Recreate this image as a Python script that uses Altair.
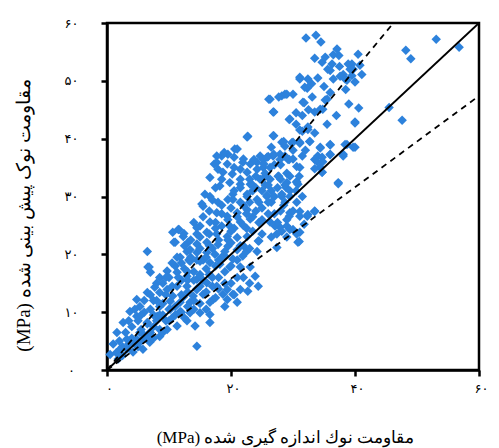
import json
import altair as alt
import pandas as pd

# Measured (x) and predicted (y) cone tip resistance, MPa
measured = [
    32.1, 33.7, 34.5, 37.1, 40.5, 33.5, 34.7, 35.2, 36.3, 37.4,
    39.5, 40.8, 39.2, 36.0, 38.1, 39.5, 41.1, 36.5, 38.7, 40.0,
    31.1, 32.4, 31.9, 28.7, 30.0, 33.1, 31.6, 35.2, 40.6, 34.4,
    33.5, 29.5, 40.0, 32.4, 31.1, 53.1, 56.8, 48.2, 49.0, 45.5,
    47.6, 38.7, 40.0, 37.3, 38.1, 36.0, 34.4, 34.0, 36.0, 34.4,
    33.5, 34.7, 32.7, 26.8, 22.7, 26.8, 26.3, 28.2, 32.3, 35.5,
    34.8, 37.6, 35.6, 38.9, 39.7, 38.4, 28.2, 28.7, 30.0, 31.1,
    30.6, 29.2, 28.7, 27.9, 26.8, 26.0, 25.2, 24.2, 23.1, 21.9,
    20.6, 19.5, 18.5, 17.7, 17.9, 16.6, 18.7, 20.2, 21.5, 22.6,
    24.2, 25.2, 26.3, 24.7, 26.3, 27.6, 29.0, 30.6, 23.1, 21.5,
    19.8, 18.2, 16.6, 20.3, 22.6, 25.8, 28.2, 21.5, 23.3, 25.5,
    26.5, 28.9, 30.8, 37.3, 20.3, 22.6, 24.2, 25.8, 28.2, 28.7,
    30.6, 29.5, 31.1, 32.3, 33.5, 27.9, 29.0, 30.0, 31.1, 30.8,
    27.4, 26.3, 24.4, 17.0, 17.9, 15.5, 17.7, 19.4, 21.0, 22.6,
    23.1, 21.5, 19.8, 18.5, 16.6, 15.0, 14.5, 16.1, 17.7, 19.4,
    21.0, 22.6, 11.5, 10.6, 12.3, 11.0, 13.1, 14.5, 16.1, 17.9,
    19.5, 21.0, 21.9, 20.3, 19.0, 17.4, 16.1, 14.5, 12.9, 11.8,
    13.4, 15.0, 16.6, 18.2, 19.8, 21.5, 23.1, 23.9, 24.4, 22.7,
    21.5, 20.3, 21.0, 19.4, 17.7, 16.1, 14.5, 12.9, 11.3, 9.7,
    6.6, 6.5, 7.0, 8.5, 7.7, 6.5, 4.8, 5.3, 3.7, 4.8,
    2.6, 1.6, 1.0, 2.1, 4.2, 5.8, 6.9, 8.5, 9.7, 11.3,
    12.9, 14.2, 14.5, 16.6, 15.0, 13.4, 11.8, 10.2, 8.5, 8.1,
    6.5, 5.3, 6.9, 4.8, 3.2, 3.2, 0.5, 1.8, 10.6, 12.3,
    13.9, 15.5, 17.1, 18.7, 9.7, 11.3, 12.9, 14.5, 19.4, 16.6,
    13.4, 11.8, 10.2, 8.5, 16.6, 6.8, 10.8, 11.6, 12.4, 14.5,
    15.3, 15.8, 11.3, 13.4, 13.2, 30.6, 28.7, 27.7, 29.4, 27.1,
    28.2, 29.5, 30.6, 31.8, 31.0, 29.0, 24.5, 24.2, 27.4, 40.0,
    38.4, 39.7, 36.0, 34.4, 36.0, 38.1, 34.7, 33.9, 34.8, 33.5,
    34.7, 32.7, 32.4, 31.1, 31.1, 33.5, 32.4, 31.1, 31.1, 29.0,
    27.7, 26.1, 31.8, 26.9, 29.4, 31.5, 22.6, 26.9, 28.5, 29.8,
    17.7, 18.9, 21.0, 20.5, 19.4, 17.3, 23.7, 24.7, 25.8, 26.9,
    27.9, 29.4, 25.3, 1.5, 2.5, 2.5, 3.5, 4.0, 4.5, 5.0,
    5.5, 5.5, 6.0, 6.0, 6.5, 7.0, 7.5, 7.5, 7.5, 8.0,
    8.5, 9.0, 9.0, 9.0, 9.5, 10.0, 10.0, 10.5, 11.0, 11.0,
    12.0, 12.0, 12.5, 13.0, 13.5, 14.0, 14.0, 14.5, 15.0, 15.5,
    15.5, 16.0, 16.5, 16.5, 17.0, 17.5, 17.5, 18.0, 18.5, 18.5,
    19.0, 19.5, 20.0, 20.0, 20.5, 21.0, 21.5, 22.0, 22.5, 22.5,
    23.5, 23.5, 24.5, 25.0, 25.5, 26.0, 26.5, 27.0, 27.5, 28.0,
    29.0, 29.5, 30.0, 31.0, 32.0,
]
predicted = [
    57.4, 57.9, 56.7, 55.5, 54.6, 53.9, 53.2, 54.1, 52.9, 54.4,
    52.9, 52.7, 52.0, 51.8, 51.1, 50.9, 51.1, 50.3, 50.1, 49.8,
    50.6, 50.3, 48.9, 47.7, 47.7, 47.2, 46.3, 46.7, 45.3, 45.1,
    44.6, 43.4, 42.9, 42.0, 41.5, 57.2, 55.8, 55.3, 53.8, 45.4,
    43.2, 39.0, 38.5, 32.4, 37.3, 39.0, 38.5, 37.0, 37.3, 35.0,
    36.4, 34.2, 39.5, 40.5, 40.4, 44.6, 46.8, 47.4, 48.7, 46.8,
    45.1, 50.8, 52.0, 52.9, 52.0, 50.3, 39.4, 38.7, 39.4, 39.4,
    35.2, 36.4, 37.0, 37.3, 37.0, 36.9, 36.4, 35.9, 35.6, 35.9,
    38.2, 37.3, 37.0, 35.9, 34.7, 33.3, 34.2, 33.9, 34.7, 34.2,
    34.7, 35.0, 35.0, 33.0, 33.0, 33.5, 32.4, 32.6, 32.1, 32.1,
    32.4, 31.8, 30.0, 30.4, 30.0, 30.0, 30.0, 31.5, 32.2, 32.0,
    31.0, 31.5, 32.1, 32.2, 29.5, 30.4, 29.5, 30.2, 30.4, 29.0,
    29.0, 27.2, 26.6, 26.6, 27.5, 24.7, 24.9, 24.3, 23.8, 22.1,
    23.5, 25.6, 22.3, 29.4, 29.0, 28.3, 27.2, 26.6, 27.2, 27.7,
    26.1, 25.6, 24.9, 24.9, 25.6, 24.9, 23.5, 23.8, 23.5, 23.1,
    22.9, 23.1, 24.3, 23.8, 23.1, 22.1, 22.1, 21.8, 22.1, 21.7,
    21.4, 20.8, 19.7, 19.2, 19.7, 20.0, 20.3, 20.3, 20.5, 19.5,
    18.8, 18.8, 18.6, 18.3, 17.8, 17.8, 17.8, 16.2, 14.5, 13.6,
    13.9, 13.1, 11.7, 13.9, 14.5, 15.1, 15.7, 16.2, 16.9, 17.1,
    17.8, 20.5, 16.9, 16.0, 14.3, 13.4, 12.2, 11.0, 10.1, 9.3,
    8.2, 6.5, 4.5, 3.6, 3.1, 3.6, 4.8, 5.8, 7.0, 7.6,
    8.5, 7.6, 4.1, 9.6, 9.9, 9.9, 10.1, 10.5, 11.0, 9.3,
    8.2, 6.5, 6.5, 5.3, 5.3, 3.6, 2.7, 1.9, 12.8, 12.6,
    12.8, 13.1, 12.2, 13.1, 13.9, 14.5, 14.5, 13.9, 12.2, 11.7,
    11.7, 11.7, 11.9, 13.4, 8.2, 17.8, 22.1, 24.3, 23.6, 24.6,
    28.7, 30.4, 19.5, 20.8, 19.0, 32.4, 32.0, 33.5, 26.6, 24.9,
    24.0, 24.3, 23.5, 25.2, 22.2, 23.0, 22.3, 20.5, 21.2, 42.7,
    39.0, 38.5, 38.9, 38.4, 37.2, 37.0, 36.8, 36.0, 36.0, 34.8,
    34.2, 39.5, 41.6, 39.2, 35.0, 27.4, 26.9, 27.4, 50.3, 47.7,
    47.2, 46.8, 46.2, 44.6, 43.3, 41.3, 40.3, 40.5, 39.5, 39.3,
    37.0, 37.6, 38.2, 36.8, 35.6, 35.6, 36.4, 37.0, 36.8, 37.3,
    36.4, 36.4, 35.6, 3.0, 2.5, 4.0, 4.5, 7.5, 4.5, 8.5,
    5.0, 7.0, 6.0, 10.0, 8.0, 6.5, 7.5, 9.5, 12.0, 8.5,
    7.0, 9.5, 11.5, 15.0, 8.5, 10.5, 16.0, 9.0, 11.0, 18.0,
    10.0, 15.5, 17.5, 13.5, 10.5, 12.0, 17.0, 14.0, 11.5, 15.5,
    19.0, 13.5, 16.5, 21.5, 14.5, 18.0, 24.5, 16.0, 19.5, 27.0,
    15.0, 22.5, 18.0, 28.0, 24.5, 16.0, 21.5, 28.5, 24.5, 20.5,
    26.5, 31.0, 25.5, 28.0, 33.5, 27.0, 29.0, 30.0, 31.5, 27.5,
    34.0, 31.0, 36.5, 33.5, 38.0,
]

# Further samples inside the dense core of the cloud
measured_core = [
    12.0, 12.5, 13.0, 13.5, 13.5, 14.0, 14.0, 14.5, 15.0, 15.0,
    15.0, 15.5, 16.0, 16.0, 16.5, 16.5, 17.0, 17.0, 17.5, 17.5,
    18.0, 18.0, 18.5, 18.5, 19.0, 19.0, 19.5, 19.5, 20.0, 20.0,
    20.5, 20.5, 21.0, 21.0, 21.5, 21.5, 22.0, 22.0, 22.0, 22.5,
    23.0, 23.0, 23.0, 23.5, 24.0, 24.0, 24.0, 24.5, 25.0, 25.0,
    25.0, 25.5, 26.0, 26.0, 26.5, 26.5, 27.0, 27.0, 27.5, 28.0,
    28.0, 28.5, 29.0, 29.5, 29.5, 30.0, 30.5, 31.5, 30.0, 31.5,
    2.0, 3.0, 3.5, 4.0, 4.5, 5.0, 5.5, 6.0, 6.5, 7.0,
    7.0, 7.5, 8.0, 8.0, 8.5, 9.0, 9.5, 9.5, 10.0, 10.5,
    10.5, 11.0, 11.5, 12.0, 12.5, 13.0, 13.0, 14.0, 15.0, 16.0,
    17.5, 18.0, 19.0, 20.0, 20.5, 22.0, 23.0,
    30.5, 31.5, 32.5, 33.0, 34.0, 35.0, 36.0, 36.5, 37.5, 38.5,
    39.0, 37.0, 35.5, 33.5, 30.5,
]
predicted_core = [
    18.5, 21.5, 17.0, 19.5, 22.5, 15.5, 25.5, 19.0, 16.5, 21.0,
    23.0, 26.5, 17.5, 19.5, 23.5, 27.5, 16.0, 21.0, 25.5, 31.5,
    19.0, 22.5, 28.5, 33.0, 17.0, 20.5, 26.0, 29.5, 22.0, 24.0,
    31.0, 35.0, 19.0, 26.5, 29.0, 33.0, 21.5, 25.0, 36.5, 27.0,
    29.0, 33.0, 21.0, 24.0, 27.5, 31.5, 33.5, 29.0, 23.5, 26.0,
    31.0, 34.0, 29.0, 32.0, 23.0, 38.5, 27.0, 35.5, 25.5, 33.0,
    35.5, 28.5, 26.0, 30.0, 33.5, 27.5, 31.0, 30.0, 38.0, 37.0,
    5.0, 6.5, 8.5, 5.5, 10.5, 4.0, 9.5, 12.0, 5.5, 10.5,
    13.0, 5.5, 12.0, 15.0, 9.5, 6.5, 13.0, 16.0, 8.5, 14.5,
    18.5, 9.5, 16.0, 13.0, 9.0, 11.0, 15.5, 10.5, 14.5, 10.5,
    12.5, 14.0, 11.0, 15.0, 13.0, 16.0, 15.0,
    44.5, 44.0, 45.0, 49.5, 50.5, 49.0, 48.0, 54.5, 52.5, 48.5,
    46.0, 44.0, 42.5, 41.0, 42.5,
]

# Reference lines: 1:1 and the two bounding ratios
line_11_x = [0, 60]
line_11_y = [0, 60]
upper_x = [0, 46.2]
upper_y = [0, 60]
lower_x = [0, 60]
lower_y = [0, 47.4]

# Axis tick values and their Persian labels
x_ticks = [0, 20, 40, 60]
x_tick_labels = ["۰", "۲۰", "۴۰", "۶۰"]
y_ticks = [0, 10, 20, 30, 40, 50, 60]
y_tick_labels = ["۰", "۱۰", "۲۰", "۳۰", "۴۰", "۵۰", "۶۰"]

x_title = "(MPa) مقاومت نوك اندازه گیری شده"
y_title = "(MPa) مقاومت نوک پیش بینی شده"

pts = pd.DataFrame({
    "measured": measured + measured_core,
    "predicted": predicted + predicted_core,
})

def label_expr(ticks, labels):
    mapping = json.dumps(dict(zip([str(t) for t in ticks], labels)), ensure_ascii=False)
    return f"{mapping}[datum.value + '']"

xscale = alt.Scale(domain=[0, 60], nice=False, zero=True)
yscale = alt.Scale(domain=[0, 60], nice=False, zero=True)

xaxis = alt.Axis(
    values=x_ticks, labelExpr=label_expr(x_ticks, x_tick_labels),
    title=x_title, titleX=178, titleY=67, titleBaseline="middle",
    titleFont="Liberation Serif", titleFontSize=17, titleFontWeight="normal",
    labelFontSize=13, labelPadding=12, labelBaseline="middle", labelOffset=2,
    labelFlush=False, labelColor="black", titleColor="black",
)
yaxis = alt.Axis(
    values=y_ticks, labelExpr=label_expr(y_ticks, y_tick_labels),
    title=y_title, titleX=-84, titleY=192, titleBaseline="middle",
    titleFont="Liberation Serif", titleFontSize=19, titleFontWeight="normal",
    labelFontSize=13, labelPadding=30, labelAlign="center", labelBaseline="middle",
    labelFlush=False, labelColor="black", titleColor="black",
)

points = alt.Chart(pts).mark_point(
    shape="diamond", filled=True, size=90, color="#2d82dc", opacity=1
).encode(
    x=alt.X("measured:Q", scale=xscale, axis=xaxis),
    y=alt.Y("predicted:Q", scale=yscale, axis=yaxis),
)

def ref_line(xs, ys, dash=None):
    df = pd.DataFrame({"measured": xs, "predicted": ys})
    kw = {"color": "black", "strokeWidth": 1.8}
    if dash:
        kw["strokeDash"] = dash
    return alt.Chart(df).mark_line(**kw).encode(
        x=alt.X("measured:Q", scale=xscale),
        y=alt.Y("predicted:Q", scale=yscale),
    )

chart = alt.layer(
    points,
    ref_line(line_11_x, line_11_y),
    ref_line(upper_x, upper_y, [6, 5]),
    ref_line(lower_x, lower_y, [6, 5]),
).properties(
    width=372, height=347,
    autosize=alt.AutoSizeParams(type="none"),
    padding={"left": 107, "top": 23, "right": 20, "bottom": 78},
    background="white",
).configure_view(
    stroke="black", strokeWidth=2.5
).configure_axis(
    grid=False, domainColor="black", domainWidth=2.5,
    tickColor="black", tickWidth=2.5, tickSize=6,
    labelFont="DejaVu Sans",
)

chart.save("out.html", embed_options={"renderer": "svg", "actions": False})
